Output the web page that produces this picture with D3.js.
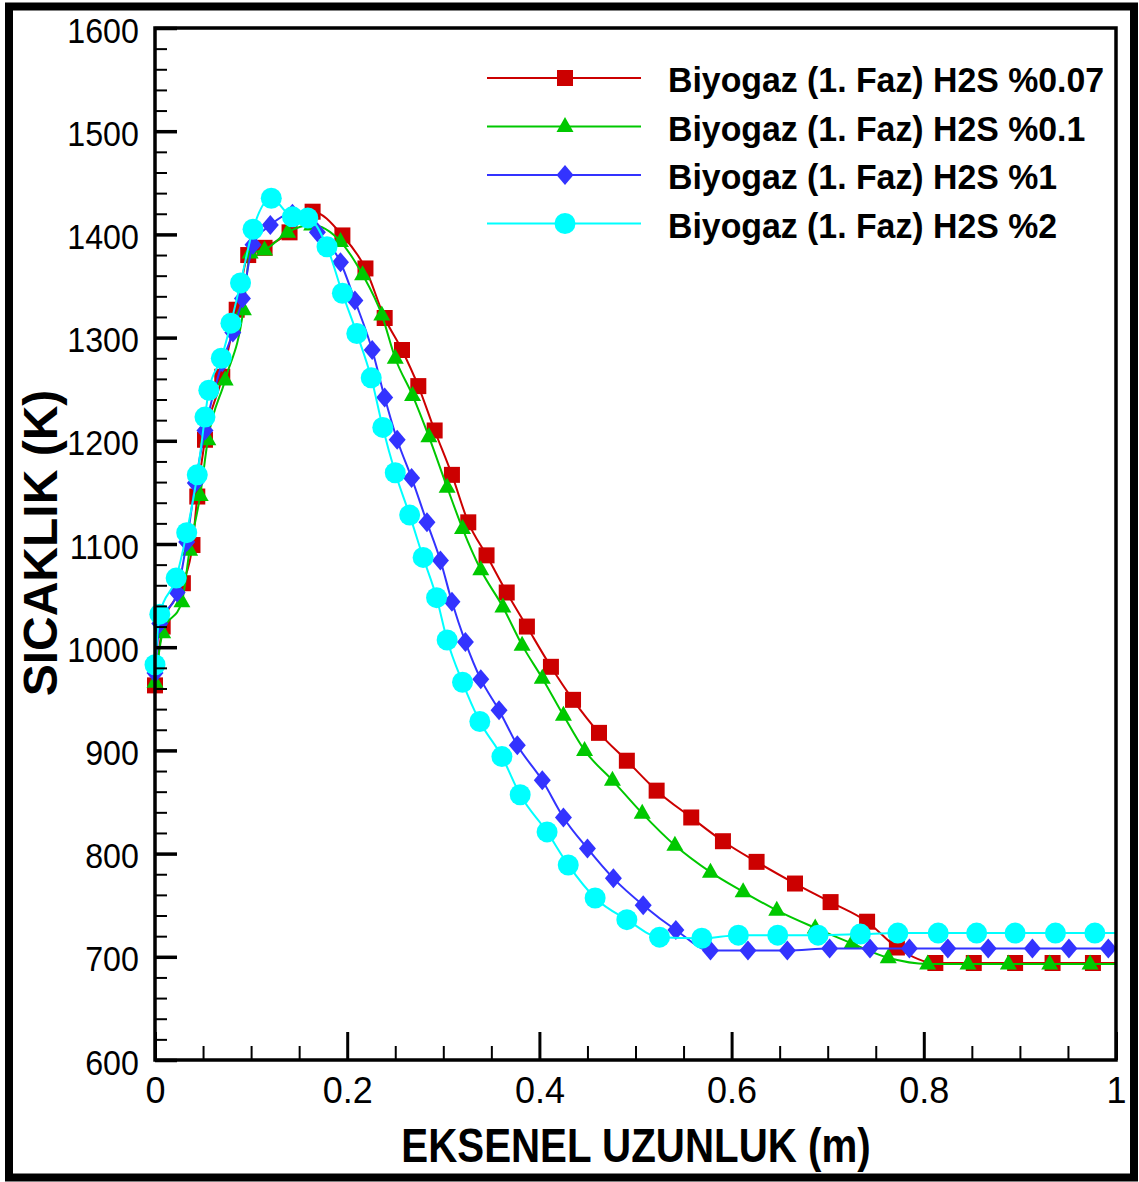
<!DOCTYPE html>
<html><head><meta charset="utf-8">
<script src="https://cdn.jsdelivr.net/npm/d3@7"></script>
<style>
body{margin:0;background:#fff}
svg{display:block}
text{font-family:"Liberation Sans", Arial, Helvetica, sans-serif;fill:#000}
</style>
</head><body>
<svg id="chart" width="1139" height="1182"></svg>
<script>
// ---- data ----
const seriesNames = ["Biyogaz (1. Faz) H2S %0.07","Biyogaz (1. Faz) H2S %0.1","Biyogaz (1. Faz) H2S %1","Biyogaz (1. Faz) H2S %2"];
const seriesColors = ["#cc0000","#00c800","#3333ff","#00ffff"];
const seriesSymbols = ["square","triangle","diamond","circle"];

const redX = [0,0.008,0.029,0.039,0.044,0.052,0.070,0.085,0.097,0.114,0.140,0.164,0.195,0.219,0.239,0.257,0.274,0.291,0.309,0.326,0.345,0.366,0.387,0.412,0.435,0.462,0.491,0.522,0.558,0.591,0.626,0.666,0.703,0.741,0.772,0.812,0.852,0.895,0.934,0.976,1.0];
const redY = [963,1020,1062,1099,1146,1201,1262,1327,1380,1387,1402,1422,1399,1367,1319,1288,1253,1210,1167,1121,1089,1053,1020,981,949,917,890,861,835,812,792,771,753,734,709,694,694,694,694,694,694];

const greenX = [0,0.008,0.028,0.036,0.047,0.055,0.073,0.092,0.099,0.114,0.138,0.163,0.193,0.216,0.236,0.250,0.268,0.285,0.304,0.320,0.339,0.362,0.382,0.403,0.425,0.447,0.476,0.507,0.541,0.578,0.612,0.647,0.687,0.725,0.763,0.804,0.846,0.888,0.931,0.973,1.0];
const greenY = [966,1014,1044,1094,1147,1201,1259,1327,1382,1385,1402,1409,1393,1361,1322,1280,1244,1204,1155,1115,1075,1039,1002,970,934,900,871,839,808,782,763,745,728,713,699,693,693,693,693,693,693];

const blueX = [0,0.005,0.023,0.033,0.042,0.052,0.070,0.081,0.091,0.102,0.120,0.143,0.169,0.193,0.208,0.226,0.239,0.252,0.267,0.283,0.297,0.309,0.323,0.339,0.358,0.377,0.403,0.425,0.450,0.477,0.508,0.542,0.578,0.617,0.658,0.702,0.744,0.785,0.825,0.867,0.913,0.951,0.992,1.0];
const blueY = [975,1023,1053,1102,1159,1210,1276,1305,1338,1390,1409,1420,1402,1373,1336,1288,1242,1201,1164,1121,1084,1044,1005,969,939,905,871,835,805,776,750,726,706,706,706,708,708,708,708,708,708,708,708,708];

const cyanX = [0,0.005,0.022,0.033,0.044,0.052,0.056,0.069,0.079,0.089,0.102,0.121,0.143,0.159,0.179,0.195,0.210,0.225,0.237,0.250,0.265,0.279,0.293,0.304,0.320,0.338,0.361,0.380,0.408,0.430,0.458,0.491,0.525,0.569,0.607,0.648,0.690,0.734,0.773,0.815,0.855,0.895,0.937,0.978,1.0];
const cyanY = [983,1032,1067,1111,1167,1223,1249,1280,1314,1353,1405,1435,1417,1416,1388,1343,1304,1261,1213,1169,1128,1087,1048,1007,966,928,894,857,821,789,757,736,719,718,721,721,721,722,723,723,723,723,723,723,723];

const xMajor = [0,0.2,0.4,0.6,0.8,1];
const xLabels = ["0","0.2","0.4","0.6","0.8","1"];
const xMinor = [0.05,0.1,0.15,0.25,0.3,0.35,0.45,0.5,0.55,0.65,0.7,0.75,0.85,0.9,0.95];
const yMajor = [600,700,800,900,1000,1100,1200,1300,1400,1500,1600];
const yMinor = d3.range(620,1600,20).filter(v => v % 100 !== 0);
const xTitle = "EKSENEL UZUNLUK (m)";
const yTitle = "SICAKLIK (K)";

// ---- build ----
const seriesX = [redX, greenX, blueX, cyanX];
const seriesY = [redY, greenY, blueY, cyanY];
const series = seriesNames.map((n,i) => ({
  name:n, color:seriesColors[i], symbol:seriesSymbols[i],
  pts: seriesX[i].map((xv,j) => ({x:xv, y:seriesY[i][j]}))
}));

const svg = d3.select("#chart");
const L=155, R=1116, T=28, B=1060;
const x = d3.scaleLinear().domain([0,1]).range([L,R]);
const y = d3.scaleLinear().domain([600,1600]).range([B,T]);

// outer frame
svg.append("rect").attr("x",9).attr("y",6.5).attr("width",1125).attr("height",1171)
  .attr("fill","none").attr("stroke","#000").attr("stroke-width",8);

svg.append("defs").append("clipPath").attr("id","plotclip")
  .append("rect").attr("x",L).attr("y",T).attr("width",R-L).attr("height",B-T);

function symbolPath(kind){
  if(kind==="square") return "M-8,-8H8V8H-8Z";
  if(kind==="triangle") return "M0,-9.5L8.5,5.5L-8.5,5.5Z";
  if(kind==="diamond") return "M0,-10L8.5,0L0,10L-8.5,0Z";
  return d3.symbol().type(d3.symbolCircle).size(Math.PI*10.5*10.5)();
}

const line = d3.line().x(d=>x(d.x)).y(d=>y(d.y)).curve(d3.curveMonotoneX);

series.forEach(s => {
  const g = svg.append("g");
  g.append("path").datum(s.pts).attr("d",line)
    .attr("fill","none").attr("stroke",s.color).attr("stroke-width",2)
    .attr("clip-path","url(#plotclip)");
  // the final point at x=1 only ends the line (no symbol there in the original)
  g.selectAll("path.m").data(s.pts.slice(0,-1)).join("path").attr("class","m")
    .attr("d",symbolPath(s.symbol))
    .attr("transform",d=>`translate(${x(d.x)},${y(d.y)})`)
    .attr("fill",s.color);
});

// axes
const gx = svg.append("g").attr("transform",`translate(0,${B})`);
gx.call(d3.axisBottom(x).tickValues(xMinor).tickSizeInner(-14).tickSizeOuter(0).tickFormat(""));
gx.select(".domain").remove();
gx.selectAll("line").attr("stroke","#000").attr("stroke-width",2);
const gx2 = svg.append("g").attr("transform",`translate(0,${B})`);
gx2.call(d3.axisBottom(x).tickValues(xMajor).tickSizeInner(-28).tickSizeOuter(0)
  .tickFormat((d,i)=>xLabels[i]));
gx2.select(".domain").remove();
gx2.selectAll("line").attr("stroke","#000").attr("stroke-width",3);
gx2.selectAll("text").attr("y",43).attr("dy",null).attr("font-size",36)
  .attr("font-family",'"Liberation Sans", Arial, sans-serif').attr("fill","#000");

const gy = svg.append("g").attr("transform",`translate(${L},0)`);
gy.call(d3.axisLeft(y).tickValues(yMinor).tickSizeInner(-12).tickSizeOuter(0).tickFormat(""));
gy.select(".domain").remove();
gy.selectAll("line").attr("stroke","#000").attr("stroke-width",2);
const gy2 = svg.append("g").attr("transform",`translate(${L},0)`);
gy2.call(d3.axisLeft(y).tickValues(yMajor).tickSizeInner(-22).tickSizeOuter(0).tickFormat(d3.format("d")));
gy2.select(".domain").remove();
gy2.selectAll("line").attr("stroke","#000").attr("stroke-width",3.5);
gy2.selectAll("text").attr("x",-17.5).attr("y",14).attr("dy",null).attr("font-size",35)
  .attr("transform","scale(0.92,1)")
  .attr("font-family",'"Liberation Sans", Arial, sans-serif').attr("fill","#000");

// plot box
svg.append("rect").attr("x",L).attr("y",T).attr("width",R-L).attr("height",B-T)
  .attr("fill","none").attr("stroke","#000").attr("stroke-width",3.5);

// titles
svg.append("text").attr("transform","translate(636,1162) scale(0.84,1)")
  .attr("text-anchor","middle").attr("font-size",48).attr("font-weight","bold").text(xTitle);
svg.append("text").attr("transform","translate(57,543) rotate(-90)")
  .attr("text-anchor","middle").attr("font-size",48).attr("font-weight","bold").text(yTitle);

// legend
const lg = svg.append("g");
series.forEach((s,i) => {
  const ry = 78 + i*48.5;
  lg.append("line").attr("x1",487).attr("x2",641).attr("y1",ry).attr("y2",ry)
    .attr("stroke",s.color).attr("stroke-width",2);
  lg.append("path").attr("d",symbolPath(s.symbol)).attr("transform",`translate(565,${ry})`).attr("fill",s.color);
  lg.append("text").attr("transform",`translate(668,${ry+14}) scale(0.94,1)`)
    .attr("font-size",36).attr("font-weight","bold").text(s.name);
});
</script>
</body></html>
